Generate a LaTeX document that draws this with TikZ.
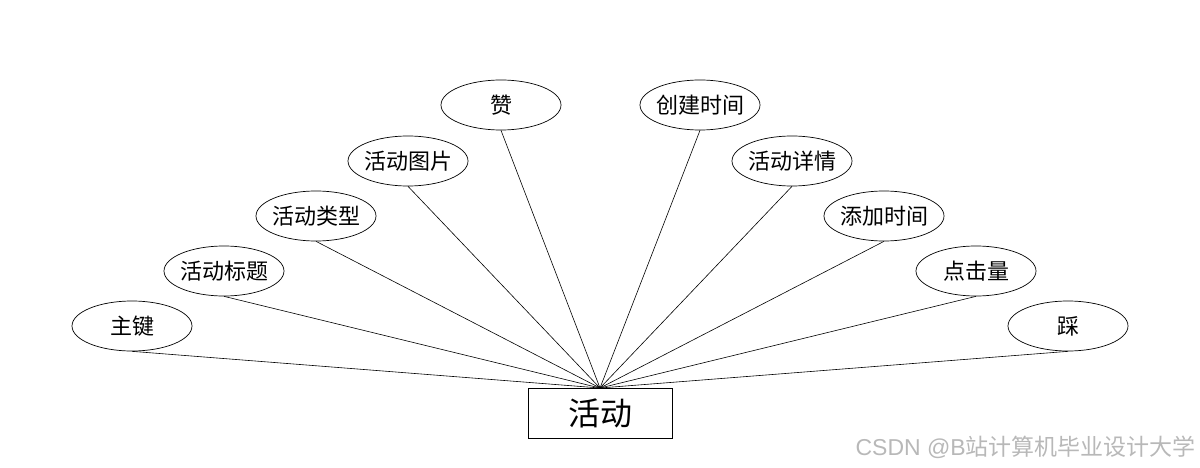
\documentclass[tikz,border=0pt]{standalone}
\usepackage{fontspec}
\usetikzlibrary{shapes.geometric}
\setmainfont{Noto Sans CJK SC}
\newfontfamily\wmfont{Liberation Sans}
\newfontfamily\cjk{Noto Sans CJK SC}
\begin{document}
\begin{tikzpicture}[x=1pt,y=-1pt,
  attr/.style={draw,ellipse,minimum width=120pt,minimum height=50pt,inner xsep=-6pt,inner ysep=0pt,font=\fontsize{22}{22}\selectfont,line width=0.7pt},
  ent/.style={draw,rectangle,minimum width=144pt,minimum height=50pt,inner sep=0pt,font=\fontsize{32}{32}\selectfont,line width=0.7pt},
  link/.style={line width=0.6pt}]
\useasboundingbox (0,0) rectangle (1200,468);
\node[ent] (e) at (600,413) {活动};
\coordinate (t) at (600,388);
\node[attr] (a1) at (132,326) {主键};
\node[attr] (a2) at (224,271) {活动标题};
\node[attr] (a3) at (316,216) {活动类型};
\node[attr] (a4) at (408,161) {活动图片};
\node[attr] (a5) at (501,105) {赞};
\node[attr] (a6) at (700,105) {创建时间};
\node[attr] (a7) at (792,161) {活动详情};
\node[attr] (a8) at (884,216) {添加时间};
\node[attr] (a9) at (976,271) {点击量};
\node[attr] (a10) at (1068,326) {踩};
\foreach \i in {1,...,10} \draw[link] (a\i.south) -- (t);
\node[anchor=east,text=black!28,font=\fontsize{23}{23}\selectfont,inner sep=0pt] (wm) at (1196,447) {{\wmfont CSDN @B}站计算机毕业设计大学};
\end{tikzpicture}
\end{document}
